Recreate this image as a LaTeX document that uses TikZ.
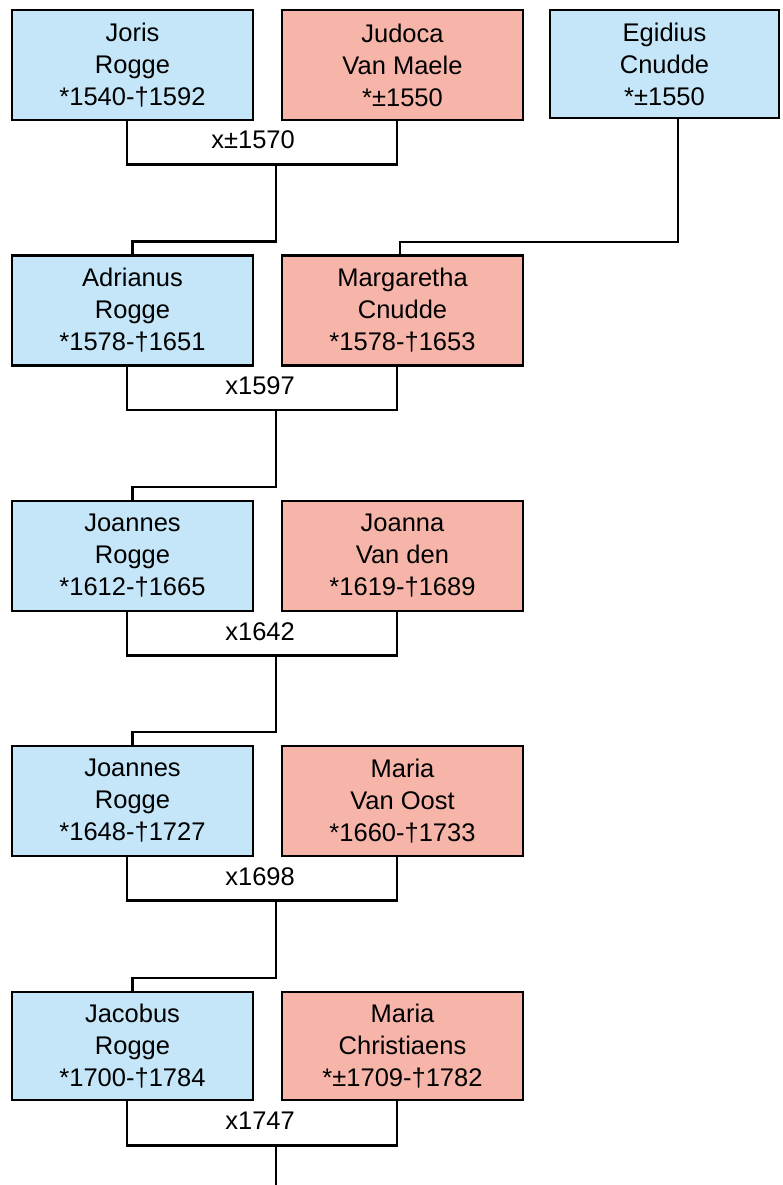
\documentclass[tikz,border=0pt]{standalone}
\usepackage{fontspec}
\setmainfont{Liberation Sans}
\definecolor{manblue}{RGB}{196,230,248}
\definecolor{womanpink}{RGB}{247,181,170}

\begin{document}
\begin{tikzpicture}[x=1pt,y=-1pt,line width=2.4pt,font=\fontsize{25.5}{32}\selectfont,
  person/.style={draw,line width=2.8pt,minimum width=241pt,minimum height=110pt,inner sep=0pt,align=center},
  man/.style={person,fill=manblue},
  woman/.style={person,fill=womanpink},
  wedding/.style={anchor=base east,inner sep=0pt}]
\useasboundingbox (0,0) rectangle (782,1185);
\node[man] (joris) at (132.5,65) {Joris\\Rogge\\*1540-†1592};
\node[woman] (judoca) at (402.5,65) {Judoca\\Van Maele\\*±1550};
\node[man,minimum width=229pt,minimum height=108pt] (egidius) at (664.5,64) {Egidius\\Cnudde\\*±1550};
\node[man] (adrianus) at (132.5,310.5) {Adrianus\\Rogge\\*1578-†1651};
\node[woman] (margaretha) at (402.5,310.5) {Margaretha\\Cnudde\\*1578-†1653};
\node[man] (joannesA) at (132.5,556) {Joannes\\Rogge\\*1612-†1665};
\node[woman] (joanna) at (402.5,556) {Joanna\\Van den\\*1619-†1689};
\node[man] (joannesB) at (132.5,801) {Joannes\\Rogge\\*1648-†1727};
\node[woman] (mariaA) at (402.5,801) {Maria\\Van Oost\\*1660-†1733};
\node[man,minimum height=108pt] (jacobus) at (132.5,1046) {Jacobus\\Rogge\\*1700-†1784};
\node[woman,minimum height=108pt] (mariaB) at (402.5,1046) {Maria\\Christiaens\\*±1709-†1782};
% marriages
\draw ([xshift=-5.5pt]joris.south) -- ++(0,43) -| ([xshift=-5.5pt]judoca.south);
\draw ([xshift=-5.5pt]adrianus.south) -- ++(0,43) -| ([xshift=-5.5pt]margaretha.south);
\draw ([xshift=-5.5pt]joannesA.south) -- ++(0,43) -| ([xshift=-5.5pt]joanna.south);
\draw ([xshift=-5.5pt]joannesB.south) -- ++(0,43) -| ([xshift=-5.5pt]mariaA.south);
\draw ([xshift=-5.5pt]jacobus.south) -- ++(0,44) -| ([xshift=-5.5pt]mariaB.south);
\node[wedding] (w1) at (296,149) {x±1570};
\node[wedding] (w2) at (296,394) {x1597};
\node[wedding] (w3) at (296,640) {x1642};
\node[wedding] (w4) at (296,885) {x1698};
\node[wedding] (w5) at (296,1129) {x1747};
% descent
\coordinate (d1) at (276,163);
\coordinate (d2) at (276,408.5);
\coordinate (d3) at (276,654);
\coordinate (d4) at (276,899);
\coordinate (d5) at (276,1144);
\coordinate (d6) at (276,1185);
\draw (d1) |- ([yshift=12.5pt]adrianus.north) -- (adrianus.north);
\draw (d2) |- ([yshift=12.5pt]joannesA.north) -- (joannesA.north);
\draw (d3) |- ([yshift=12.5pt]joannesB.north) -- (joannesB.north);
\draw (d4) |- ([yshift=12.5pt]jacobus.north) -- (jacobus.north);
\draw (d5) -- (d6);
\draw ([xshift=13.5pt]egidius.south) |- ([xshift=-2.5pt,yshift=12pt]margaretha.north) -- ([xshift=-2.5pt]margaretha.north);
\end{tikzpicture}
\end{document}
